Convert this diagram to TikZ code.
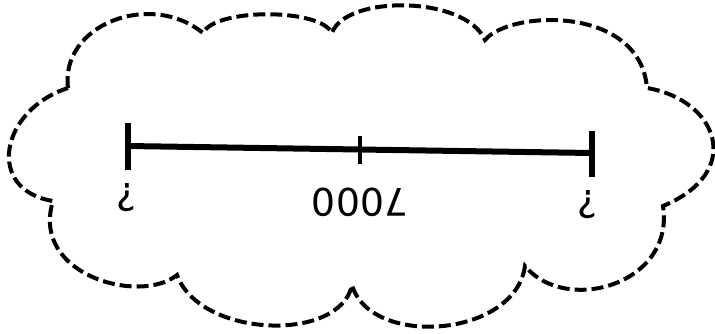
\documentclass[tikz,border=0pt]{standalone}
\usepackage{fontspec}
\newfontfamily\digitfont{DejaVu Sans}
\begin{document}
\begin{tikzpicture}[x=1pt,y=-1pt,
  cloudline/.style={draw=black,line width=4pt,dash pattern=on 12pt off 5pt},
  axisline/.style={line width=6pt},
  endtick/.style={line width=6.5pt},
  midtick/.style={line width=3.5pt},
  lbl/.style={inner sep=0pt,font=\digitfont\fontsize{38}{40}\selectfont,rotate=180}]
\useasboundingbox (0,0) rectangle (715,333);
% cloud
\draw[cloudline] (68,88)
  .. controls (60,25) and (150,-10) .. (203,33)
  .. controls (215,8) and (320,8) .. (332,33)
  .. controls (345,-5) and (465,-5) .. (485,40)
  .. controls (510,10) and (640,5) .. (647,88)
  .. controls (718,100) and (745,172) .. (663,206)
  .. controls (675,285) and (565,315) .. (525,266)
  .. controls (515,338) and (370,348) .. (352,285)
  .. controls (340,343) and (200,338) .. (177,275)
  .. controls (140,305) and (30,275) .. (53,201)
  .. controls (-15,190) and (0,110) .. cycle;
% number line
\coordinate (L) at (128,146);
\coordinate (R) at (592,153);
\coordinate (M) at (360,149.5);
\draw[axisline] (L) -- (R);
\draw[endtick] ([yshift=-24pt]L) -- ([yshift=23pt]L);
\draw[endtick] ([yshift=-24pt]R) -- ([yshift=22pt]R);
\draw[midtick] ([yshift=-14.5pt]M) -- ([yshift=13.5pt]M);
% labels
\node[lbl] (t1) at (126,198) {?};
\node[lbl] (t2) at (360,202) {7000};
\node[lbl] (t3) at (587,205) {?};
\end{tikzpicture}
\end{document}
